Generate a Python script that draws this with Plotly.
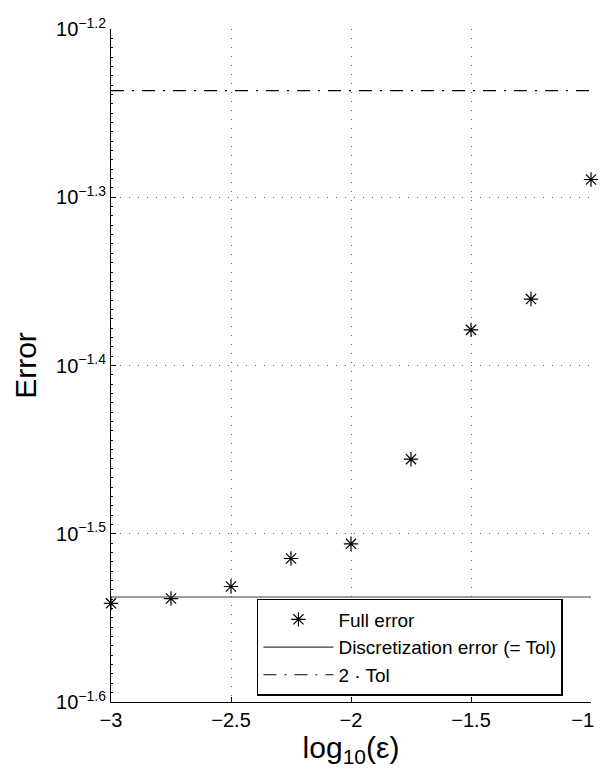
import numpy as np
import plotly.graph_objects as go

# ---- data ----
log_eps = [-3.0, -2.75, -2.5, -2.25, -2.0, -1.75, -1.5, -1.25, -1.0]
full_error = [0.02875, 0.02894, 0.02942, 0.03057, 0.03119, 0.03502, 0.04180, 0.04360, 0.05135]
tol = 0.02900
x_range = [-3, -1]
x_ticks = [-3, -2.5, -2, -1.5, -1]
x_ticktext = ["\u22123", "\u22122.5", "\u22122", "\u22121.5", "\u22121\u00a0\u00a0\u00a0"]
y_exponents = [-1.6, -1.5, -1.4, -1.3, -1.2]
y_ticktext = ["10<sup>\u2212%.1f</sup>" % abs(e) for e in y_exponents]

FONT = "Liberation Sans, Arial, Helvetica, sans-serif"

fig = go.Figure()
fig.add_trace(go.Scatter(
    x=log_eps, y=full_error, mode="markers", name="Full error",
    marker=dict(symbol="asterisk-open", size=12, color="black",
                line=dict(color="black", width=1.2)),
    cliponaxis=False,
))
fig.add_trace(go.Scatter(
    x=x_range, y=[tol, tol], mode="lines", name="Discretization error (= Tol)",
    line=dict(color="#3a3a3a", width=1.2),
))
fig.add_trace(go.Scatter(
    x=x_range, y=[2 * tol, 2 * tol], mode="lines", name="2 \u00b7 Tol",
    line=dict(color="black", width=1.2, dash="13px,8px,2px,8px"),
))

minor_vals = [10 ** v for v in np.arange(-1.6, -1.2 + 1e-9, 0.1 / 18)]

fig.update_layout(
    width=600, height=772,
    margin=dict(l=111, r=9, t=29, b=70),
    paper_bgcolor="white", plot_bgcolor="white",
    font=dict(family=FONT, color="black", size=20),
    showlegend=True,
    legend=dict(
        x=0.304, y=0.081, xanchor="left", yanchor="middle",
        bgcolor="white", bordercolor="black", borderwidth=1.5,
        font=dict(family=FONT, size=19, color="black"),
        itemwidth=70, tracegroupgap=0,
    ),
    xaxis=dict(
        range=x_range, tickmode="array", tickvals=x_ticks, ticktext=x_ticktext,
        showline=True, linecolor="black", linewidth=1, mirror=False,
        ticks="inside", ticklen=5, tickcolor="black",
        showgrid=True, gridcolor="#666666", griddash="1px,8px", gridwidth=1,
        zeroline=False, ticklabeloverflow="allow", automargin=False,
        tickfont=dict(size=20),
        title=dict(text="log<sub>10</sub>(\u03b5)", font=dict(size=30), standoff=0),
    ),
    yaxis=dict(
        type="log", range=[-1.6, -1.2],
        tickmode="array", tickvals=[10 ** e for e in y_exponents], ticktext=y_ticktext,
        showline=True, linecolor="black", linewidth=1, mirror=False,
        ticks="inside", ticklen=5, tickcolor="black",
        showgrid=True, gridcolor="#666666", griddash="1px,8px", gridwidth=1,
        zeroline=False, ticklabeloverflow="allow", automargin=False,
        tickfont=dict(size=20),
        minor=dict(tickmode="array", tickvals=minor_vals, ticks="inside",
                   ticklen=2, tickcolor="black", showgrid=False),
        title=dict(text="Error", font=dict(size=30), standoff=10),
    ),
)

fig.write_html("out.html")
